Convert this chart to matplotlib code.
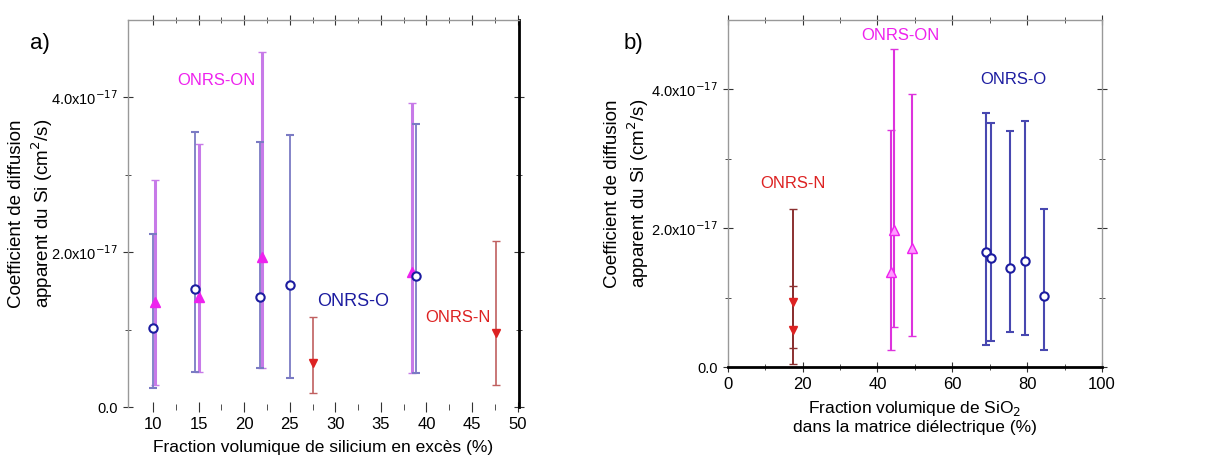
import matplotlib
matplotlib.use("Agg")
import matplotlib.pyplot as plt
from matplotlib.ticker import FixedLocator

plt.rcParams['font.family'] = ['Liberation Sans', 'DejaVu Sans']

# ---------------- data (y in units of 1e-17 cm^2/s) ----------------
# Panel a: x = excess silicon volume fraction (%)
a_on_x = [10.2, 15.0, 22.0, 38.4]
a_on_y = [1.35, 1.42, 1.94, 1.75]
a_on_lo = [0.28, 0.45, 0.50, 0.44]
a_on_hi = [2.93, 3.40, 4.58, 3.92]

a_o_x = [10.0, 14.6, 21.7, 25.0, 38.9]
a_o_y = [1.02, 1.53, 1.42, 1.57, 1.69]
a_o_lo = [0.25, 0.45, 0.50, 0.37, 0.44]
a_o_hi = [2.24, 3.55, 3.42, 3.51, 3.66]

a_n_x = [27.5, 47.6]
a_n_y = [0.57, 0.95]
a_n_lo = [0.18, 0.28]
a_n_hi = [1.16, 2.15]

# Panel b: x = SiO2 volume fraction in dielectric matrix (%)
b_n_x = [17.5, 17.5]
b_n_y = [0.94, 0.53]
b_n_lo = [0.27, 0.05]
b_n_hi = [2.27, 1.16]

b_on_x = [43.5, 44.5, 49.3]
b_on_y = [1.37, 1.98, 1.72]
b_on_lo = [0.25, 0.58, 0.44]
b_on_hi = [3.42, 4.58, 3.93]

b_o_x = [69.1, 70.4, 75.3, 79.4, 84.6]
b_o_y = [1.66, 1.57, 1.43, 1.52, 1.02]
b_o_lo = [0.32, 0.37, 0.51, 0.46, 0.25]
b_o_hi = [3.66, 3.52, 3.40, 3.54, 2.27]

y_ticks = [0, 2, 4]
y_ticklabels = ['0.0', r'2.0x10$^{-17}$', r'4.0x10$^{-17}$']
a_xticks = [10, 15, 20, 25, 30, 35, 40, 45, 50]
b_xticks = [0, 20, 40, 60, 80, 100]

C_ON = '#ee22ee'
C_O = '#1c1ca0'
C_N = '#dd2222'


def errs(y, lo, hi):
    return [[v - l for v, l in zip(y, lo)], [h - v for v, h in zip(y, hi)]]


fig = plt.figure(figsize=(12.13, 4.62), dpi=100)

# ---------------- panel a ----------------
axa = fig.add_axes([0.1055, 0.119, 0.322, 0.838])
axa.errorbar(a_on_x, a_on_y, yerr=errs(a_on_y, a_on_lo, a_on_hi), fmt='^',
             color=C_ON, ecolor='#c77ae8', elinewidth=2.2, capsize=3,
             ms=7, mfc=C_ON, mec=C_ON)
axa.errorbar(a_o_x, a_o_y, yerr=errs(a_o_y, a_o_lo, a_o_hi), fmt='o',
             color=C_O, ecolor='#7b7bc4', elinewidth=1.3, capsize=3,
             ms=6, mfc='white', mec=C_O, mew=1.5)
axa.errorbar(a_n_x, a_n_y, yerr=errs(a_n_y, a_n_lo, a_n_hi), fmt='v',
             color=C_N, ecolor='#c06060', elinewidth=1.2, capsize=3,
             ms=6, mfc=C_N, mec=C_N)
axa.set_xlim(7.25, 50.1)
axa.set_ylim(0, 5.0)
axa.set_xticks(a_xticks)
axa.xaxis.set_minor_locator(FixedLocator([12.5, 17.5, 22.5, 27.5, 32.5, 37.5, 42.5, 47.5]))
axa.set_yticks(y_ticks)
axa.set_yticklabels(y_ticklabels)
axa.yaxis.set_minor_locator(FixedLocator([1, 3]))
axa.tick_params(axis='both', which='both', direction='inout', top=True, right=True,
                color='#333333')
axa.tick_params(axis='x', labelsize=12)
axa.tick_params(axis='y', labelsize=10.5)
axa.tick_params(which='major', length=7)
axa.tick_params(which='minor', length=4)
for s in ['left', 'top']:
    axa.spines[s].set_color('#999999')
    axa.spines[s].set_linewidth(1.0)
axa.spines['bottom'].set_visible(False)
axa.spines['right'].set_color('black')
axa.spines['right'].set_linewidth(2.0)
axa.set_xlabel('Fraction volumique de silicium en excès (%)', fontsize=12.5, labelpad=6)
axa.set_ylabel('Coefficient de diffusion\napparent du Si (cm$^2$/s)', fontsize=13.5)
axa.yaxis.set_label_coords(-0.188, 0.5)
axa.text(17.0, 4.22, 'ONRS-ON', color=C_ON, fontsize=12, ha='center', va='center')
axa.text(32.0, 1.36, 'ONRS-O', color=C_O, fontsize=13, ha='center', va='center')
axa.text(43.4, 1.16, 'ONRS-N', color=C_N, fontsize=12, ha='center', va='center')
fig.text(0.033, 0.905, 'a)', fontsize=16, ha='center', va='center')

# ---------------- panel b ----------------
axb = fig.add_axes([0.600, 0.2056, 0.3085, 0.7514])
axb.errorbar(b_n_x, b_n_y, yerr=errs(b_n_y, b_n_lo, b_n_hi), fmt='v',
             color=C_N, ecolor='#8b3030', elinewidth=1.4, capsize=3,
             ms=6, mfc=C_N, mec=C_N)
axb.errorbar(b_on_x, b_on_y, yerr=errs(b_on_y, b_on_lo, b_on_hi), fmt='^',
             color=C_ON, ecolor='#dd33dd', elinewidth=1.5, capsize=3,
             ms=7, mfc='#ff99ff', mec=C_ON)
axb.errorbar(b_o_x, b_o_y, yerr=errs(b_o_y, b_o_lo, b_o_hi), fmt='o',
             color=C_O, ecolor='#4848b0', elinewidth=1.5, capsize=3,
             ms=6, mfc='white', mec=C_O, mew=1.5)
axb.set_xlim(0, 100)
axb.set_ylim(0, 5.0)
axb.set_xticks(b_xticks)
axb.xaxis.set_minor_locator(FixedLocator([10, 30, 50, 70, 90]))
axb.set_yticks(y_ticks)
axb.set_yticklabels(y_ticklabels)
axb.yaxis.set_minor_locator(FixedLocator([1, 3]))
axb.tick_params(axis='both', which='both', direction='inout', top=True, right=True,
                color='#333333')
axb.tick_params(axis='x', labelsize=12)
axb.tick_params(axis='y', labelsize=10.5)
axb.tick_params(which='major', length=7)
axb.tick_params(which='minor', length=4)
for s in ['left', 'top', 'right']:
    axb.spines[s].set_color('#999999')
    axb.spines[s].set_linewidth(1.0)
axb.spines['bottom'].set_color('black')
axb.spines['bottom'].set_linewidth(2.0)
axb.set_xlabel('Fraction volumique de SiO$_2$\ndans la matrice diélectrique (%)',
               fontsize=12.5, labelpad=5)
axb.set_ylabel('Coefficient de diffusion\napparent du Si (cm$^2$/s)', fontsize=13.5)
axb.yaxis.set_label_coords(-0.206, 0.5)
axb.text(46.0, 4.78, 'ONRS-ON', color=C_ON, fontsize=12, ha='center', va='center')
axb.text(76.2, 4.14, 'ONRS-O', color=C_O, fontsize=12, ha='center', va='center')
axb.text(17.4, 2.65, 'ONRS-N', color=C_N, fontsize=12, ha='center', va='center')
fig.text(0.522, 0.905, 'b)', fontsize=16, ha='center', va='center')

fig.savefig('out.png', dpi=100)
